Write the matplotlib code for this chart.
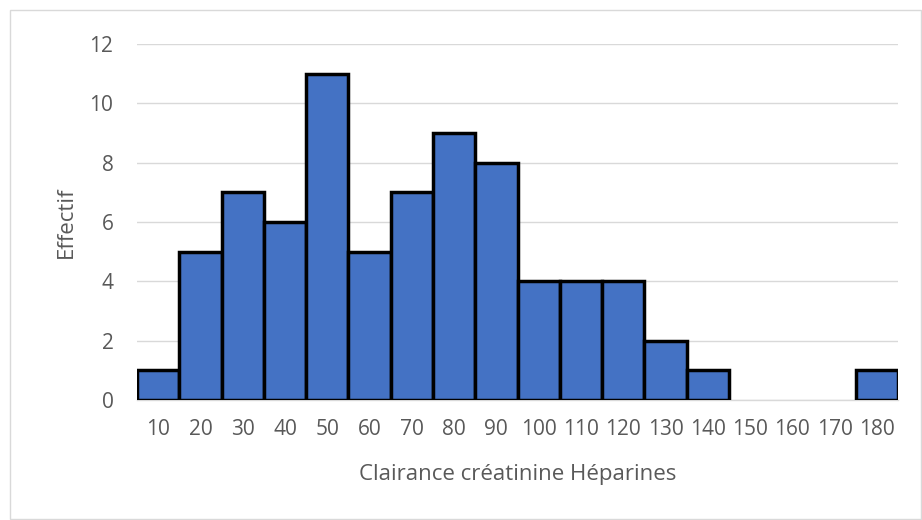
import matplotlib
matplotlib.use("Agg")
import matplotlib.pyplot as plt
from matplotlib.patches import Rectangle

categories = ["10", "20", "30", "40", "50", "60", "70", "80", "90", "100",
              "110", "120", "130", "140", "150", "160", "170", "180"]
counts = [1, 5, 7, 6, 11, 5, 7, 9, 8, 4, 4, 4, 2, 1, 0, 0, 0, 1]
yticks = [0, 2, 4, 6, 8, 10, 12]

plt.rcParams['font.family'] = ['Open Sans', 'DejaVu Sans']
txt = '#595959'

fig = plt.figure(figsize=(9.22, 5.2), dpi=100)
fig.patches.append(Rectangle((10/922, 1/520), 911/922, 509/520, transform=fig.transFigure,
                             fill=False, edgecolor='#d9d9d9', linewidth=1))
ax = fig.add_axes([137/922, 1-400/520, (898-137)/922, (400-44)/520])

x = list(range(len(categories)))
edges = ['black' if c > 0 else 'none' for c in counts]
ax.bar(x, counts, width=1.0, color='#4472C4', edgecolor=edges, linewidth=2.5, zorder=3)
ax.set_xlim(-0.5, len(categories) - 0.5)
ax.set_ylim(0, 12)
ax.set_yticks(yticks)
ax.set_xticks(x)
ax.set_xticklabels(categories)
ax.yaxis.grid(True, color='#d9d9d9', linewidth=1, zorder=0)
ax.set_axisbelow(True)
for s in ['top', 'right', 'left']:
    ax.spines[s].set_visible(False)
ax.spines['bottom'].set_color('#d9d9d9')
ax.spines['bottom'].set_linewidth(1)
ax.tick_params(axis='both', length=0, labelsize=15, labelcolor=txt)
ax.tick_params(axis='x', pad=14)
ax.tick_params(axis='y', pad=17)
ax.set_xlabel("Clairance créatinine Héparines", fontsize=16, color=txt, labelpad=17)
ax.set_ylabel("Effectif", fontsize=16, color=txt, labelpad=9)

fig.savefig("out.png", dpi=100)
